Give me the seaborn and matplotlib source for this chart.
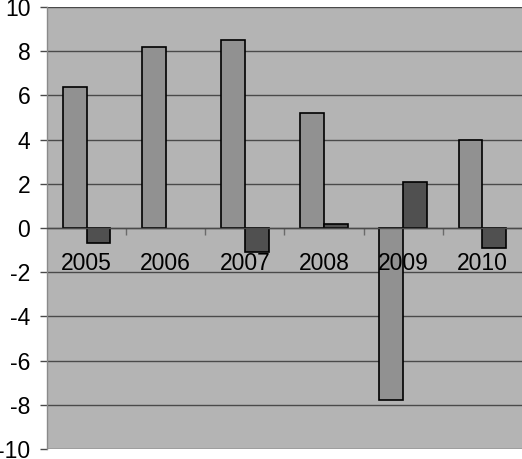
import matplotlib
matplotlib.use("Agg")
import matplotlib.pyplot as plt
import matplotlib.transforms as mtransforms
import seaborn as sns
import pandas as pd
import numpy as np

years = ["2005", "2006", "2007", "2008", "2009", "2010"]
series_a = [6.4, 8.2, 8.5, 5.2, -7.8, 4.0]
series_b = [-0.7, 0.0, -1.1, 0.2, 2.1, -0.9]
y_ticks = [-10, -8, -6, -4, -2, 0, 2, 4, 6, 8, 10]

df = pd.DataFrame({
    "year": years * 2,
    "value": series_a + series_b,
    "series": ["A"] * len(years) + ["B"] * len(years),
})

sns.set_style("white")
plt.rcParams["font.family"] = ["Liberation Sans", "DejaVu Sans"]

fig = plt.figure(figsize=(5.22, 4.59), dpi=100)
ax = fig.add_axes([47 / 522, 10 / 459, 1 - 47 / 522, (449 - 7) / 459])
ax.set_facecolor("#b4b4b4")

sns.barplot(data=df, x="year", y="value", hue="series", order=years,
            palette={"A": "#919191", "B": "#505050"}, width=0.6,
            edgecolor="black", linewidth=1.2, saturation=1, legend=False, ax=ax,
            err_kws={"linewidth": 0})

for p in ax.patches:
    if abs(p.get_height()) < 1e-9:
        p.set_linewidth(0)

ax.set_xlim(-0.5, 5.5)
ax.set_ylim(-10, 10)
ax.set_yticks(y_ticks)
ax.set_yticklabels([str(v) for v in y_ticks])
ax.yaxis.grid(True, color="#4a4a4a", linewidth=1.0)
ax.xaxis.grid(False)
ax.set_axisbelow(True)
ax.set_xlabel("")
ax.set_ylabel("")

for s in ["top", "right"]:
    ax.spines[s].set_visible(False)
ax.spines["left"].set_color("#8a8a8a")
ax.spines["left"].set_linewidth(1.0)
ax.spines["bottom"].set_position(("data", 0))
ax.spines["bottom"].set_color("#4a4a4a")
ax.spines["bottom"].set_linewidth(1.0)

ax.set_xticks(range(len(years)))
ax.set_xticklabels([])
ax.set_xticks(np.arange(0.5, len(years) - 0.5, 1.0), minor=True)
ax.tick_params(axis="x", which="major", length=0)
ax.tick_params(axis="x", which="minor", length=5, width=1, color="#6a6a6a", direction="out", bottom=True)
ax.tick_params(axis="y", which="major", length=5, width=1, color="#4a4a4a", direction="out",
               left=True, pad=7, labelsize=16.5, labelcolor="black")

offset = mtransforms.ScaledTranslation(0, -17 / 72, fig.dpi_scale_trans)
for i, yr in enumerate(years):
    ax.text(i, 0, yr, ha="center", va="top", fontsize=16.5, color="black",
            transform=ax.transData + offset, zorder=10)

fig.savefig("out.png", dpi=100)
